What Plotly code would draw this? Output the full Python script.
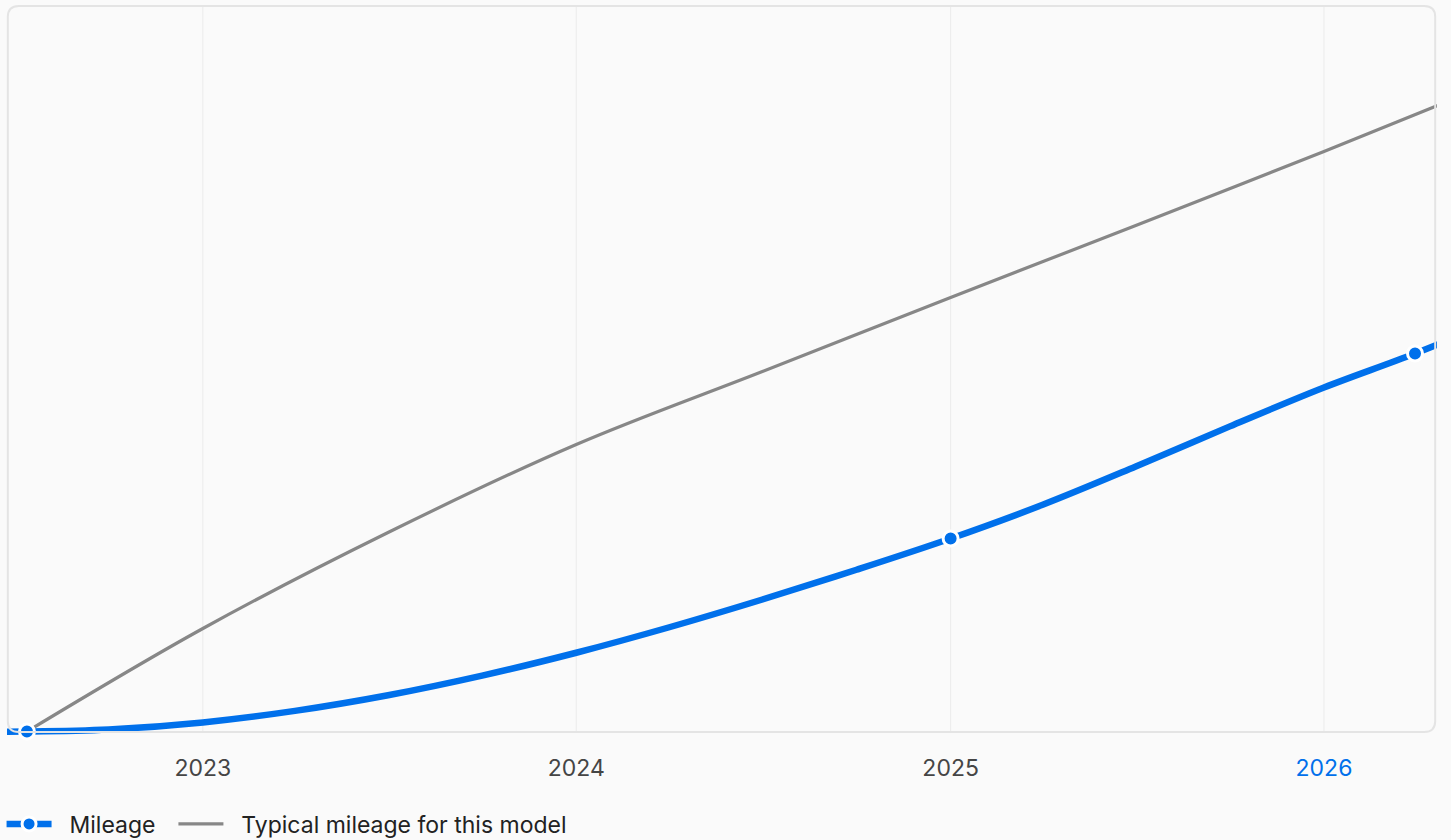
import plotly.graph_objects as go

# ---- data ----
years = ["2023-01-01", "2024-01-01", "2025-01-01", "2026-01-01"]
year_labels = ["2023", "2024", "2025", "2026"]

# recorded mileage readings (markers)
mileage_dates = ["2022-07-13", "2025-01-01", "2026-03-31"]
mileage_values = [0, 15440, 30240]

# drawn mileage line (incl. the parts beyond the visible window)
mileage_line_dates = ["2022-04-01", "2022-07-13", "2022-10-01", "2023-01-01", "2023-04-01",
                      "2023-07-01", "2023-10-01", "2024-01-01", "2024-04-01", "2024-07-01",
                      "2024-10-01", "2025-01-01", "2025-04-01", "2025-07-01", "2025-10-01",
                      "2026-01-01", "2026-03-31", "2026-06-30"]
mileage_line_values = [0, 0, 160, 728, 1650, 2900, 4470, 6300, 8340, 10560,
                       12940, 15440, 18140, 21200, 24410, 27520, 30240, 33280]

# typical mileage for this model
typical_dates = ["2022-07-13", "2023-01-01", "2023-07-01", "2024-01-01", "2024-07-01",
                 "2025-01-01", "2025-07-01", "2026-01-01", "2026-07-01"]
typical_values = [0, 8240, 15920, 22960, 28800, 34720, 40480, 46400, 52400]

BLUE = "#0070eb"
GREY = "#878787"
FONT = "Inter, Noto Sans, sans-serif"
FS = 23
NB = "\u00a0"

fig = go.Figure()

# legend entry for Mileage (line + dot)
fig.add_trace(go.Scatter(
    x=[None], y=[None], name=NB * 2 + "Mileage" + NB * 2, mode="lines+markers",
    line=dict(color=BLUE, width=6.5),
    marker=dict(color=BLUE, size=14, line=dict(color="white", width=3)),
    legendrank=1, legendgroup="m",
))

fig.add_trace(go.Scatter(
    x=typical_dates, y=typical_values, name=NB * 2 + "Typical mileage for this model",
    mode="lines", line=dict(color=GREY, width=3.2, shape="spline"),
    legendrank=2, hoverinfo="skip",
))

fig.add_trace(go.Scatter(
    x=mileage_line_dates, y=mileage_line_values, name="Mileage", mode="lines",
    line=dict(color=BLUE, width=6.5, shape="spline"),
    showlegend=False, legendgroup="m", hoverinfo="skip",
))

fig.add_trace(go.Scatter(
    x=mileage_dates, y=mileage_values, name="Mileage", mode="markers",
    marker=dict(color=BLUE, size=15, line=dict(color="white", width=3)),
    showlegend=False, legendgroup="m", cliponaxis=False,
))

# plot area in pixels: x 7..1437, y 5..740 ; border bottom at 732
W, H = 1430, 735
bx0, bx1 = 0.8 / W, 1 - 1.8 / W
by0, by1 = 8.0 / H, 1 - 1.0 / H
rx, ry = 11 / W, 11 / H
path = (f"M {bx0+rx},{by0} L {bx1-rx},{by0} Q {bx1},{by0} {bx1},{by0+ry} "
        f"L {bx1},{by1-ry} Q {bx1},{by1} {bx1-rx},{by1} "
        f"L {bx0+rx},{by1} Q {bx0},{by1} {bx0},{by1-ry} "
        f"L {bx0},{by0+ry} Q {bx0},{by0} {bx0+rx},{by0} Z")

shapes = [dict(type="line", xref="x", yref="paper", x0=d, x1=d, y0=by0, y1=by1,
               line=dict(color="#ebebeb", width=1), layer="below") for d in years]
shapes.append(dict(type="path", path=path, xref="paper", yref="paper",
                   line=dict(color="#e4e4e4", width=2), layer="above"))

fig.update_layout(
    width=1451, height=840, autosize=False,
    margin=dict(l=7, r=14, t=5, b=100, autoexpand=False),
    paper_bgcolor="#fafafa", plot_bgcolor="#fafafa",
    font=dict(family=FONT, size=FS, color="#222222"),
    showlegend=True,
    legend=dict(orientation="h", x=-0.0038, xanchor="left", y=-0.1143, yanchor="middle",
                font=dict(family=FONT, size=FS, color="#222222"),
                itemwidth=45, bgcolor="rgba(0,0,0,0)"),
    shapes=shapes,
    hovermode=False,
)

fig.update_xaxes(
    type="date", range=["2022-06-23 12:00", "2026-04-21 12:00"],
    tickvals=years,
    ticktext=[l if l != "2026" else f'<span style="color:{BLUE}">{l}</span>' for l in year_labels],
    showgrid=False, zeroline=False, showline=False, ticks="",
    ticklabelstandoff=12,
    tickfont=dict(family=FONT, size=FS, color="#454545"),
)
fig.update_yaxes(range=[-680, 58120], visible=False, showgrid=False, zeroline=False)

fig.write_html(
    "out.html",
    config={"displayModeBar": False, "responsive": False},
    post_script="document.body.style.margin='0';document.body.style.overflow='hidden';"
                "document.documentElement.style.overflow='hidden';",
)
